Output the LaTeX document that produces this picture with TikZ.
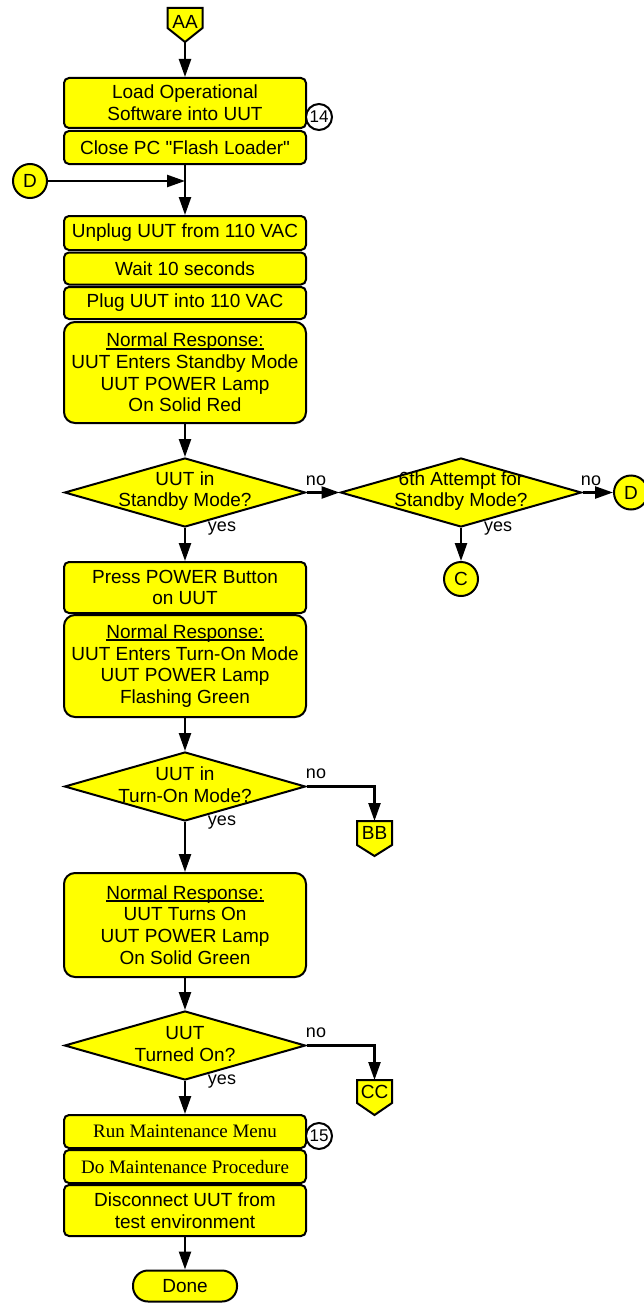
\documentclass[tikz,border=0pt]{standalone}
\usepackage{fontspec}
\setmainfont{Liberation Sans}
\newfontfamily\timesff{Liberation Serif}
\usetikzlibrary{arrows.meta,shapes.geometric}
\definecolor{yel}{HTML}{FFFF00}
\newcommand\fsz{\fontsize{19}{21.7}\selectfont}
\newcommand\lsz{\fontsize{18}{20}\selectfont}
\newcommand\csz{\fontsize{17}{19}\selectfont}
\newcommand\ulin[1]{\leavevmode\setbox0\hbox{#1}\rlap{\vrule width \wd0 height -0.8pt depth 2.8pt}\box0}
\begin{document}
\begin{tikzpicture}[x=1pt,y=-1pt,
 box/.style={draw, line width=2pt, fill=yel, rounded corners=5pt, minimum width=242pt, inner sep=0pt, align=center, font=\fsz},
 bigbox/.style={box, rounded corners=11pt},
 dia/.style={draw, diamond, fill=yel, line width=2pt, minimum width=241pt, minimum height=69pt, inner sep=0pt},
 dtext/.style={align=center, font=\fsz, inner sep=0pt},
 conn/.style={draw, circle, fill=yel, line width=2pt, minimum size=34pt, inner sep=0pt, font=\fsz},
 num/.style={draw, circle, fill=white, line width=2pt, minimum size=26pt, inner sep=0pt, font=\csz},
 lbl/.style={font=\lsz, inner sep=0pt},
 arr/.style={line width=2.4pt, -{Triangle[length=18pt,width=12pt]}},
 off/.style={draw, line width=2pt, fill=yel, line join=miter},
]
\useasboundingbox (0,0) rectangle (644,1303);

% off-page connector AA
\path[off] (167.5,8) -- (202.5,8) -- (202.5,28) -- (185,42) -- (167.5,28) -- cycle;
\node[dtext] (AA) at (185,22) {AA};
\coordinate (AAtip) at (185,42);

% boxes
\node[box, minimum height=50pt] (b1) at (185,103) {Load Operational\\Software into UUT};
\node[box, minimum height=33pt] (b2) at (185,147.5) {Close PC \textquotedbl Flash Loader\textquotedbl};
\node[num] (n14) at (319,117) {14};

\node[conn] (Dl) at (30,181) {D};
\coordinate (J) at (185,181);

\node[box, minimum height=34pt] (b3) at (185,233) {Unplug UUT from 110 VAC};
\node[box, minimum height=32pt] (b4) at (185,268.5) {Wait 10 seconds};
\node[box, minimum height=32pt] (b5) at (185,303) {Plug UUT into 110 VAC};
\node[bigbox, minimum height=101pt] (b6) at (185,372.5) {\ulin{Normal Response:}\\UUT Enters Standby Mode\\UUT POWER Lamp\\On Solid Red};

% decision 1 and 2
\node[dia] (d1) at (185,492.5) {};
\node[dtext] (t1) at (185,491) {UUT in\\Standby Mode?};
\node[dia] (d2) at (461,492.5) {};
\node[dtext] (t2) at (461,491) {6th Attempt for\\Standby Mode?};
\node[conn] (Dr) at (631,492.5) {D};
\node[conn] (C) at (461,579) {C};
\node[lbl] (no1) at (316,481) {no};
\node[lbl] (no2) at (591,481) {no};
\node[lbl] (yes1) at (222,529) {yes};
\node[lbl] (yes2) at (498,529) {yes};

\node[box, minimum height=51pt] (b7) at (185,587.5) {Press POWER Button\\on UUT};
\node[bigbox, minimum height=102pt] (b8) at (185,666) {\ulin{Normal Response:}\\UUT Enters Turn-On Mode\\UUT POWER Lamp\\Flashing Green};

% decision 3
\node[dia] (d3) at (185,786.5) {};
\node[dtext] (t3) at (185,785) {UUT in\\Turn-On Mode?};
\node[lbl] (no3) at (316,774) {no};
\node[lbl] (yes3) at (222,823) {yes};
\path[off] (357,821) -- (392,821) -- (392,845) -- (374.5,856) -- (357,845) -- cycle;
\node[dtext] (BB) at (374.5,833) {BB};
\coordinate (BBtop) at (374.5,821);

\node[bigbox, minimum height=104pt] (b9) at (185,925) {\ulin{Normal Response:}\\UUT Turns On\\UUT POWER Lamp\\On Solid Green};

% decision 4
\node[dia] (d4) at (185,1045.5) {};
\node[dtext] (t4) at (185,1044) {UUT\\Turned On?};
\node[lbl] (no4) at (316,1033) {no};
\node[lbl] (yes4) at (222,1082) {yes};
\path[off] (357,1080) -- (392,1080) -- (392,1103) -- (374.5,1115) -- (357,1103) -- cycle;
\node[dtext] (CC) at (374.5,1092) {CC};
\coordinate (CCtop) at (374.5,1080);

\node[box, minimum height=33pt, font=\timesff\fsz] (b10) at (185,1131.5) {Run Maintenance Menu};
\node[num] (n15) at (319,1136) {15};
\node[box, minimum height=33pt, font=\timesff\fsz] (b11) at (185,1166.5) {Do Maintenance Procedure};
\node[box, minimum height=51pt] (b12) at (185,1210.5) {Disconnect UUT from\\test environment};

\node[box, rounded corners=15pt, minimum width=104pt, minimum height=31pt] (done) at (185,1286) {Done};

% connectors
\draw[arr] (AAtip) -- (b1.north);
\draw[arr] (b2.south) -- (b3.north);
\draw[arr] (Dl.east) -- (J);
\draw[arr] (b6.south) -- (d1.north);
\draw[arr] (d1.east) -- (d2.west);
\draw[arr] (d2.east) -- (Dr.west);
\draw[arr] (d2.south) -- (C.north);
\draw[arr] (d1.south) -- (b7.north);
\draw[arr] (b8.south) -- (d3.north);
\draw[arr] (d3.east) -| (BBtop);
\draw[arr] (d3.south) -- (b9.north);
\draw[arr] (b9.south) -- (d4.north);
\draw[arr] (d4.east) -| (CCtop);
\draw[arr] (d4.south) -- (b10.north);
\draw[arr] (b12.south) -- (done.north);
\end{tikzpicture}
\end{document}
